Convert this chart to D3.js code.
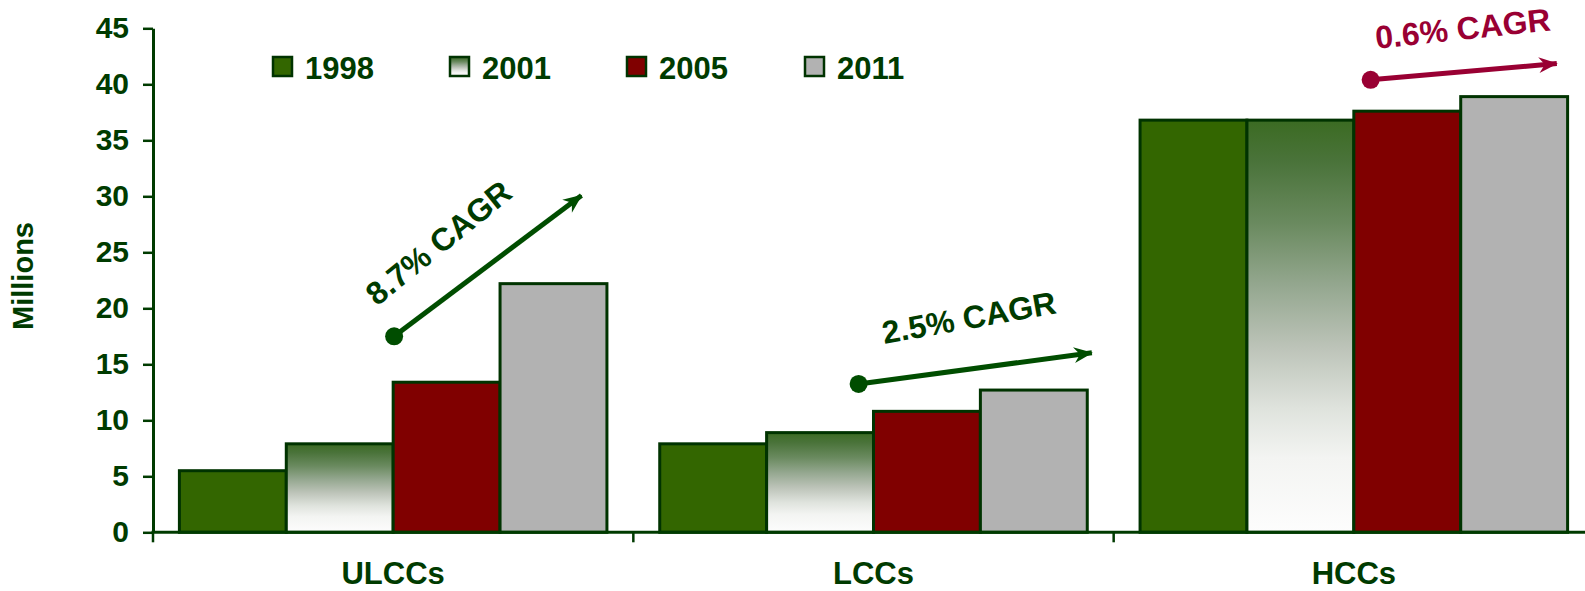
<!DOCTYPE html>
<html>
<head>
<meta charset="utf-8">
<script src="https://cdn.jsdelivr.net/npm/d3@7"></script>
<style>
  html, body { margin: 0; padding: 0; background: #ffffff; }
  svg { display: block; font-family: "Liberation Sans", Arial, sans-serif; font-weight: bold; }
</style>
</head>
<body>
<svg id="chart" width="1585" height="591"></svg>
<script>
// Passenger volumes by carrier type (millions)
const categories = ["ULCCs", "LCCs", "HCCs"];
const years = ["1998", "2001", "2005", "2011"];
const values1998 = [5.5, 7.9, 36.8];
const values2001 = [7.9, 8.9, 36.8];
const values2005 = [13.4, 10.8, 37.6];
const values2011 = [22.2, 12.7, 38.9];
const seriesValues = [values1998, values2001, values2005, values2011];
const yTicks = [0, 5, 10, 15, 20, 25, 30, 35, 40, 45];

// Growth annotations: start/end given as position inside the category band and value on the axis
const cagrLabels = ["8.7% CAGR", "2.5% CAGR", "0.6% CAGR"];
const cagrFrom = [[0.502, 17.5], [0.469, 13.25], [0.535, 40.4]];
const cagrTo = [[0.902, 30.4], [0.967, 16.1], [0.935, 41.9]];

const ink = "#003b00";
const crimson = "#990033";
const fills = ["#336600", "url(#fade2001)", "#800000", "#b2b2b2"];

const svg = d3.select("#chart");
const defs = svg.append("defs");

// 2001 fill: green at the top fading through grey-green to white
const grad = defs.append("linearGradient")
  .attr("id", "fade2001").attr("x1", 0).attr("y1", 0).attr("x2", 0).attr("y2", 1);
[[0, "#3b6b22"], [0.1, "#4a733a"], [0.25, "#6a8a5f"], [0.4, "#94a78f"],
 [0.55, "#bcc3b8"], [0.7, "#dfe3dd"], [0.82, "#f3f4f2"], [1, "#fdfdfd"]]
  .forEach(([o, c]) => grad.append("stop").attr("offset", o).attr("stop-color", c));

function arrowMarker(id, color) {
  defs.append("marker")
    .attr("id", id)
    .attr("viewBox", "-20 -9 22 18")
    .attr("refX", 0).attr("refY", 0)
    .attr("markerUnits", "userSpaceOnUse")
    .attr("markerWidth", 22).attr("markerHeight", 18)
    .attr("orient", "auto")
    .append("path")
    .attr("d", "M1,0 L-18,-8 L-12,0 L-18,8 Z")
    .attr("fill", color);
}
arrowMarker("arrowGreen", "#004d00");
arrowMarker("arrowRed", crimson);

const x0 = 153, x1 = 1594, yBase = 532.3, yTop = 28.3;

const x = d3.scaleBand().domain(categories).range([x0, x1]).paddingInner(0).paddingOuter(0);
const xs = d3.scaleBand().domain(years).range([0, x.bandwidth()]).paddingInner(0).paddingOuter(0.247);
const y = d3.scaleLinear().domain([0, 45]).range([yBase, yTop]);

// Bars
const groups = svg.append("g").selectAll("g")
  .data(categories)
  .join("g")
  .attr("transform", d => `translate(${x(d)},0)`);

groups.selectAll("rect")
  .data((c, ci) => years.map((yr, si) => ({ yr, si, v: seriesValues[si][ci] })))
  .join("rect")
  .attr("x", d => xs(d.yr))
  .attr("y", d => y(d.v))
  .attr("width", xs.bandwidth())
  .attr("height", d => y(0) - y(d.v))
  .attr("fill", d => fills[d.si])
  .attr("stroke", "#003300")
  .attr("stroke-width", 3);

// Y axis
const yAxis = svg.append("g")
  .attr("transform", `translate(${x0},0)`)
  .call(d3.axisLeft(y).tickValues(yTicks).tickSize(10).tickPadding(14).tickSizeOuter(0));
yAxis.select(".domain").attr("stroke", ink).attr("stroke-width", 3);
yAxis.selectAll(".tick line").attr("stroke", ink).attr("stroke-width", 2.5);
yAxis.selectAll(".tick text")
  .attr("fill", ink)
  .style("font-size", "30px")
  .style("font-weight", "bold")
  .style("font-family", "'Liberation Sans', Arial, sans-serif");

// X axis baseline and band separators
svg.append("line")
  .attr("x1", x0 - 1.5).attr("x2", 1585)
  .attr("y1", y(0)).attr("y2", y(0))
  .attr("stroke", ink).attr("stroke-width", 3);
svg.append("g").selectAll("line")
  .data(categories)
  .join("line")
  .attr("x1", d => x(d)).attr("x2", d => x(d))
  .attr("y1", y(0)).attr("y2", y(0) + 10)
  .attr("stroke", ink).attr("stroke-width", 2.5);

svg.append("g").selectAll("text")
  .data(categories)
  .join("text")
  .attr("x", d => x(d) + x.bandwidth() / 2)
  .attr("y", 584)
  .attr("text-anchor", "middle")
  .attr("fill", ink)
  .style("font-size", "31px")
  .text(d => d);

// Y axis title
svg.append("text")
  .attr("transform", "translate(33,276) rotate(-90)")
  .attr("text-anchor", "middle")
  .attr("fill", ink)
  .style("font-size", "29px")
  .text("Millions");

// Legend
const legendX = [273, 450, 627, 805];
const legend = svg.append("g").selectAll("g")
  .data(years)
  .join("g")
  .attr("transform", (d, i) => `translate(${legendX[i]},57)`);
legend.append("rect")
  .attr("width", 19).attr("height", 19)
  .attr("fill", (d, i) => fills[i])
  .attr("stroke", "#003300").attr("stroke-width", 2.5);
legend.append("text")
  .attr("x", 32).attr("y", 22)
  .attr("fill", ink)
  .style("font-size", "31px")
  .text(d => d);

// Growth arrows
const pt = (ci, p) => [x(categories[ci]) + p[0] * x.bandwidth(), y(p[1])];
const annColors = ["#004d00", "#004d00", crimson];
const annText = [ink, ink, crimson];
const annMarkers = ["arrowGreen", "arrowGreen", "arrowRed"];
// label placement: along-line shift and perpendicular lift (px)
const annShift = [-28, -2, 0];
const annLift = [37, 40, 32];
const annTilt = [-2, -2.5, -1];

cagrLabels.forEach((label, i) => {
  const [ax, ay] = pt(i, cagrFrom[i]);
  const [bx, by] = pt(i, cagrTo[i]);
  const ang = Math.atan2(by - ay, bx - ax);
  svg.append("line")
    .attr("x1", ax).attr("y1", ay).attr("x2", bx - 6 * Math.cos(ang)).attr("y2", by - 6 * Math.sin(ang))
    .attr("stroke", annColors[i]).attr("stroke-width", 5)
    .attr("marker-end", `url(#${annMarkers[i]})`);
  svg.append("circle")
    .attr("cx", ax).attr("cy", ay).attr("r", 9)
    .attr("fill", annColors[i]);
  const mx = (ax + bx) / 2 + annShift[i] * Math.cos(ang) + annLift[i] * Math.sin(ang);
  const my = (ay + by) / 2 + annShift[i] * Math.sin(ang) - annLift[i] * Math.cos(ang);
  const deg = ang * 180 / Math.PI + annTilt[i];
  svg.append("text")
    .attr("transform", `translate(${mx},${my}) rotate(${deg})`)
    .attr("text-anchor", "middle")
    .attr("fill", annText[i])
    .style("font-size", "32px")
    .text(label);
});
</script>
</body>
</html>
